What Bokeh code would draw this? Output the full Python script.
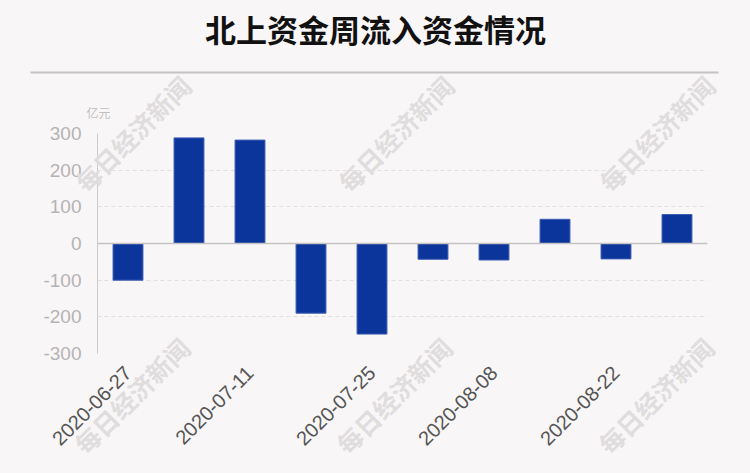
from math import pi
from bokeh.plotting import figure
from bokeh.models import (Range1d, FixedTicker, Label, BoxAnnotation, Span,
                          ColumnDataSource, GlobalInlineStyleSheet, GridBox)
from bokeh.embed import file_html
from bokeh.resources import INLINE

# ---- data ----
dates = ["2020-06-27", "2020-07-04", "2020-07-11", "2020-07-18", "2020-07-25",
         "2020-08-01", "2020-08-08", "2020-08-15", "2020-08-22", "2020-08-29"]
values = [-100, 288, 282, -190, -247, -43, -45, 66, -42, 79]
y_ticks = [-300, -200, -100, 0, 100, 200, 300]
title_text = "北上资金周流入资金情况"
unit_text = "亿元"
watermark_text = "每日经济新闻"

BG = "#f9f6f7"
W, H = 750, 473

# ---- chart layer ----
p = figure(width=W, height=H, output_backend="svg", toolbar_location=None,
           x_range=Range1d(-0.5, len(dates) - 0.5), y_range=Range1d(-300, 300),
           min_border_left=97, min_border_right=43, min_border_top=133,
           min_border_bottom=120,
           background_fill_color=BG, border_fill_color=BG, outline_line_color=None)
p.frame_align = False

src = ColumnDataSource(dict(x=list(range(len(dates))), top=values, date=dates))
p.vbar(x="x", top="top", bottom=0, width=0.49, source=src,
       fill_color="#0c359b", line_color="#3a5cb3", line_width=1)

p.add_layout(Span(location=0, dimension="width", line_color="#c4c2c3", line_width=1.5))

p.yaxis.ticker = FixedTicker(ticks=y_ticks)
p.yaxis.major_label_overrides = {t: str(t) for t in y_ticks}
p.yaxis.axis_line_color = "#cccccc"
p.yaxis.major_tick_line_color = None
p.yaxis.minor_tick_line_color = None
p.yaxis.major_label_text_font = "Liberation Sans"
p.yaxis.major_label_text_font_size = "19px"
p.yaxis.major_label_text_color = "#b5b3b4"
p.yaxis.major_label_standoff = 10

xt = list(range(0, len(dates), 2))
p.xaxis.ticker = FixedTicker(ticks=xt)
p.xaxis.major_label_overrides = {i: dates[i] for i in xt}
p.xaxis.axis_line_color = None
p.xaxis.major_tick_line_color = None
p.xaxis.minor_tick_line_color = None
p.xaxis.major_label_orientation = pi / 4
p.xaxis.major_label_text_font = "Liberation Sans"
p.xaxis.major_label_text_font_size = "20px"
p.xaxis.major_label_text_color = "#555555"
p.xaxis.major_label_standoff = 10

p.xgrid.grid_line_color = None
p.ygrid.ticker = FixedTicker(ticks=y_ticks)
p.ygrid.grid_line_color = "#e2dfe0"
p.ygrid.grid_line_dash = "4 3"

# ---- decoration layer (transparent, full-canvas frame): title, rule, unit, watermarks ----
bg = figure(width=W, height=H, output_backend="svg", toolbar_location=None,
            x_axis_type=None, y_axis_type=None,
            x_range=Range1d(0, W), y_range=Range1d(H, 0),
            min_border=0, background_fill_color=None, border_fill_color=None,
            outline_line_color=None)
bg.frame_align = False
bg.grid.visible = False

bg.add_layout(Label(x=375, y=28, x_units="canvas", y_units="canvas", text=title_text,
                    text_align="center", text_baseline="middle",
                    text_font="Noto Sans CJK SC", text_font_style="bold",
                    text_font_size="31px", text_color="#111111"))
bg.add_layout(BoxAnnotation(left=30, right=718, top=71, bottom=73,
                            left_units="canvas", right_units="canvas",
                            top_units="canvas", bottom_units="canvas",
                            fill_color="#c4c2c3", fill_alpha=1.0, line_color=None))
bg.add_layout(Label(x=86, y=112, x_units="canvas", y_units="canvas", text=unit_text,
                    text_align="left", text_baseline="middle",
                    text_font="Noto Sans CJK SC", text_font_size="12px",
                    text_color="#c0bebf"))
for cx, cy in [(132, 133), (395, 133), (656, 133), (131, 395), (393, 395), (655, 395)]:
    bg.add_layout(Label(x=cx, y=cy, x_units="canvas", y_units="canvas", text=watermark_text,
                        angle=pi / 4, text_align="center", text_baseline="middle",
                        text_font="Noto Sans CJK SC", text_font_style="bold",
                        text_font_size="25px", text_color="#dfdddd"))

layout = GridBox(children=[(p, 0, 0), (bg, 0, 0)])
layout.stylesheets = [GlobalInlineStyleSheet(css="html, body { background-color: %s; }" % BG)]

open("out.html", "w").write(file_html(layout, INLINE))
